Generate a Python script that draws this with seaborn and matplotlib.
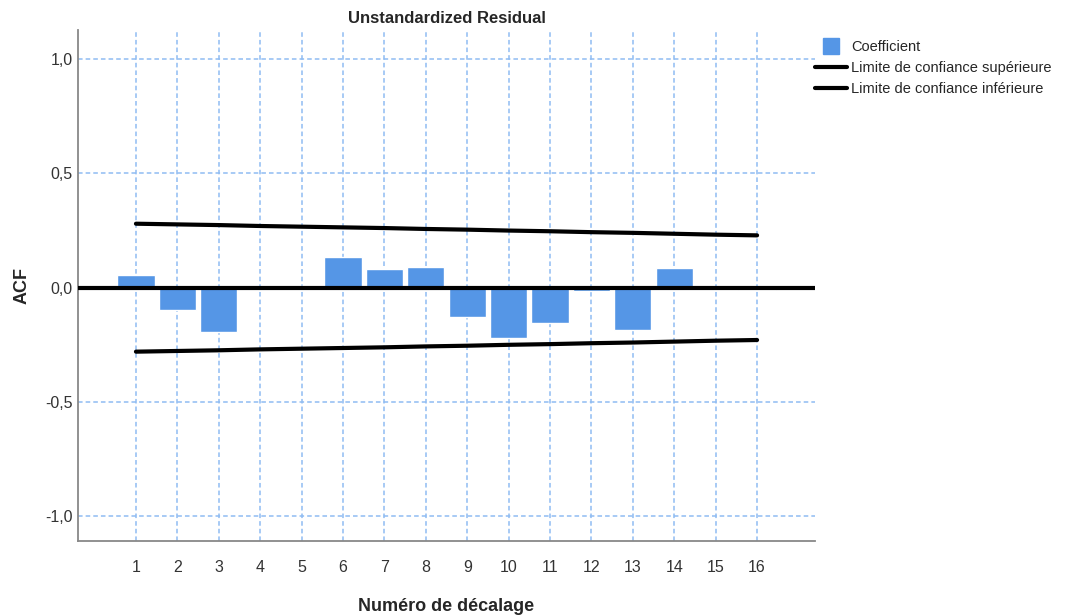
import matplotlib
matplotlib.use("Agg")
import matplotlib.pyplot as plt
from matplotlib.lines import Line2D
from matplotlib.ticker import FuncFormatter
import seaborn as sns
import pandas as pd

# Autocorrelation of the residual series, lags 1..16
lags = [1, 2, 3, 4, 5, 6, 7, 8, 9, 10, 11, 12, 13, 14, 15, 16]
acf = [0.057, -0.096, -0.194, -0.002, 0.006, 0.135, 0.083, 0.092,
       -0.127, -0.219, -0.153, -0.015, -0.187, 0.086, 0.001, -0.012]
upper = [0.280, 0.277, 0.274, 0.270, 0.267, 0.264, 0.261, 0.257,
         0.254, 0.250, 0.247, 0.243, 0.240, 0.236, 0.232, 0.229]
lower = [-v for v in upper]
yticks = [-1.0, -0.5, 0.0, 0.5, 1.0]

bar_color = "#5596e6"
grid_color = "#8fbcf2"

sns.set_theme(style="white")
plt.rcParams["font.family"] = ["Liberation Sans", "DejaVu Sans"]

fig = plt.figure(figsize=(10.86, 6.16), dpi=100)
ax = fig.add_axes([0.0718, 0.122, 0.6787, 0.829])

df = pd.DataFrame({"lag": lags, "acf": acf})
sns.barplot(data=df, x="lag", y="acf", native_scale=True, color=bar_color,
            saturation=1, width=0.9, ax=ax, zorder=2)

sns.lineplot(x=lags, y=upper, color="black", lw=3, ax=ax, zorder=4)
sns.lineplot(x=lags, y=lower, color="black", lw=3, ax=ax, zorder=4)
ax.axhline(0, color="black", lw=3, zorder=4)

ax.set_xlim(-0.4, 17.4)
ax.set_ylim(-1.108, 1.127)
ax.set_xticks(lags)
ax.set_xticklabels([str(l) for l in lags])
ax.set_yticks(yticks)
ax.yaxis.set_major_formatter(FuncFormatter(lambda v, p: f"{v:.1f}".replace(".", ",").replace("-0,0", "0,0")))
ax.tick_params(axis="both", labelsize=11.5, colors="#333333", length=0)
ax.tick_params(axis="x", pad=14)
ax.tick_params(axis="y", pad=4)

ax.grid(True, color=grid_color, linestyle=(0, (3, 2)), lw=1.1, zorder=0)
ax.set_axisbelow(True)
for s in ("top", "right"):
    ax.spines[s].set_visible(False)
for s in ("left", "bottom"):
    ax.spines[s].set_color("#888888")
    ax.spines[s].set_linewidth(1.3)

ax.set_title("Unstandardized Residual", fontsize=12, fontweight="bold", pad=5)
ax.set_xlabel("Numéro de décalage", fontsize=13, fontweight="bold", labelpad=16)
ax.set_ylabel("ACF", fontsize=13, fontweight="bold", labelpad=10)

handles = [
    Line2D([], [], marker="s", color=bar_color, linestyle="None", markersize=11),
    Line2D([], [], color="black", lw=3),
    Line2D([], [], color="black", lw=3),
]
labels = ["Coefficient", "Limite de confiance supérieure", "Limite de confiance inférieure"]
fig.legend(handles, labels, loc="upper left", bbox_to_anchor=(0.745, 0.944),
           frameon=False, fontsize=10.5, handlelength=2.2, handletextpad=0.3,
           labelspacing=0.48, borderaxespad=0)

fig.savefig("out.png", dpi=100, facecolor="white")
